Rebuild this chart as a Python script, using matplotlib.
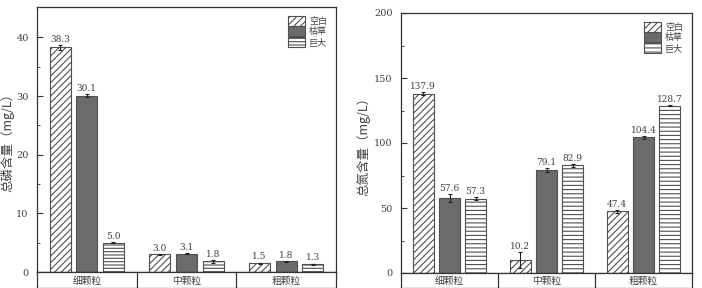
import matplotlib
matplotlib.use("Agg")
import matplotlib.pyplot as plt
import numpy as np

plt.rcParams['font.family'] = ['DejaVu Serif', 'Noto Sans CJK SC']
plt.rcParams['hatch.linewidth'] = 0.8

categories = ['细颗粒', '中颗粒', '粗颗粒']
series = ['空白', '枯草', '巨大']

p_blank = [38.3, 3.0, 1.5]
p_bs = [30.1, 3.1, 1.8]
p_bm = [5.0, 1.8, 1.3]
p_blank_err = [0.4, 0.1, 0.1]
p_bs_err = [0.2, 0.1, 0.1]
p_bm_err = [0.1, 0.2, 0.1]

n_blank = [137.9, 10.2, 47.4]
n_bs = [57.6, 79.1, 104.4]
n_bm = [57.3, 82.9, 128.7]
n_blank_err = [1.0, 6.0, 1.0]
n_bs_err = [3.0, 1.5, 1.0]
n_bm_err = [1.0, 1.0, 0.5]

edge = '#505050'
txt = '#404040'

fig = plt.figure(figsize=(7.02, 2.88), dpi=100)


def panel(rect, band_h, data, errs, ylim, yticks, minor, ylabel, ylabel_x, hatches, width, off, label_fmt):
    l, b, w, h = rect
    ax = fig.add_axes([l / 702, (288 - b) / 288, w / 702, h / 288])
    x = np.arange(len(categories))
    styles = [dict(facecolor='white', hatch=hatches[0]),
              dict(facecolor='#6b6b6b', hatch=None),
              dict(facecolor='white', hatch=hatches[1])]
    handles = []
    for i, (vals, er, st) in enumerate(zip(data, errs, styles)):
        xs = x + (i - 1) * off
        bars = ax.bar(xs, vals, width, edgecolor=edge, linewidth=0.8, label=series[i], **st)
        ax.errorbar(xs, vals, yerr=er, fmt='none', ecolor='#222222', elinewidth=0.8, capsize=1.5, capthick=0.8)
        handles.append(bars)
        for xx, v, e in zip(xs, vals, er):
            ax.text(xx, v + e + ylim[1] * 0.005, label_fmt(v), ha='center', va='bottom', fontsize=6.5, color=txt)
    ax.set_xlim(-0.5, 2.5)
    ax.set_ylim(*ylim)
    ax.set_xticks([])
    ax.set_yticks(yticks)
    ax.set_yticks(minor, minor=True)
    ax.tick_params(axis='y', which='major', direction='in', length=4, width=0.8, labelsize=7, labelcolor=txt, color='#333333', pad=6)
    ax.tick_params(axis='y', which='minor', direction='in', length=2, width=0.6, color='#333333')
    for s in ax.spines.values():
        s.set_color('#333333')
        s.set_linewidth(0.9)
    ax.set_ylabel(ylabel, fontsize=9, color=txt, family=['Noto Sans CJK SC', 'DejaVu Sans'])
    ax.yaxis.set_label_coords((ylabel_x - l) / w, 0.5)
    leg = ax.legend(handles=handles, loc='upper right', frameon=False,
                    handlelength=1.9, handleheight=1.3, labelspacing=0.05, handletextpad=0.4,
                    borderaxespad=0.6, prop={'family': ['Noto Sans CJK SC'], 'size': 6.5})
    for t in leg.get_texts():
        t.set_color(txt)
    # category band below the axis
    band = fig.add_axes([l / 702, 0.5 / 288, w / 702, band_h / 288])
    band.set_xlim(-0.5, 2.5)
    band.set_ylim(0, 1)
    band.set_xticks([])
    band.set_yticks([])
    for s in band.spines.values():
        s.set_color('#333333')
        s.set_linewidth(0.9)
    for bnd in [0.5, 1.5]:
        band.axvline(bnd, color='#333333', linewidth=0.9)
    for i, c in enumerate(categories):
        band.text(i, 0.45, c, ha='center', va='center', fontsize=7, color=txt,
                  family=['Noto Sans CJK SC'])
    return ax, band


panel((37, 272, 299, 265), 15.5, [p_blank, p_bs, p_bm], [p_blank_err, p_bs_err, p_bm_err],
      (0, 45.2), [0, 10, 20, 30, 40], [5, 15, 25, 35], '总磷含量（mg/L）', 14,
      ['/////', '-----'], 0.21, 0.267, lambda v: f'{v:.1f}')

panel((401, 273, 291, 260), 14.5, [n_blank, n_bs, n_bm], [n_blank_err, n_bs_err, n_bm_err],
      (0, 200), [0, 50, 100, 150, 200], [25, 75, 125, 175], '总氮含量（mg/L）', 370,
      ['/////', '----'], 0.22, 0.27, lambda v: f'{v:.1f}')

fig.savefig('out.png', dpi=100)
